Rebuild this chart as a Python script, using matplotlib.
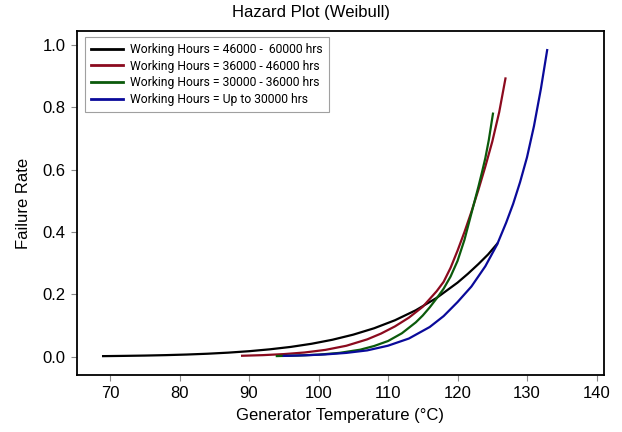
import matplotlib
matplotlib.use("Agg")
import matplotlib.pyplot as plt

labels = ["Working Hours = 46000 -  60000 hrs",
          "Working Hours = 36000 - 46000 hrs",
          "Working Hours = 30000 - 36000 hrs",
          "Working Hours = Up to 30000 hrs"]

t_black = [69, 72, 75, 78, 81, 84, 87, 90, 93, 96, 99, 102, 105, 108, 111, 114, 117, 120, 121.5, 123, 124.4, 125.7]
h_black = [0.0015, 0.0023, 0.0033, 0.0047, 0.0066, 0.0092, 0.0127, 0.0173, 0.0234, 0.0311, 0.0412,
           0.0541, 0.0705, 0.091, 0.1167, 0.1488, 0.1885, 0.2374, 0.266, 0.297, 0.328, 0.362]

t_red = [89, 92, 95, 98, 101, 104, 107, 109, 111, 113, 115, 117, 118, 119, 120, 121, 122, 123,
         124, 125, 126, 126.9]
h_red = [0.0027, 0.0047, 0.0080, 0.0132, 0.0216, 0.0348, 0.0553, 0.074, 0.097, 0.125, 0.16, 0.21,
         0.24, 0.285, 0.34, 0.40, 0.465, 0.535, 0.61, 0.69, 0.785, 0.893]

t_green = [94, 97, 100, 103, 106, 108, 110, 112, 114, 115, 116, 117, 118, 119, 120, 121, 122,
           123, 123.5, 124, 124.5, 125.1]
h_green = [0.0017, 0.0033, 0.0063, 0.0119, 0.0222, 0.034, 0.05, 0.075, 0.11, 0.132, 0.158, 0.187,
           0.218, 0.257, 0.307, 0.375, 0.46, 0.545, 0.59, 0.637, 0.695, 0.78]

t_blue = [95, 98, 101, 104, 107, 110, 113, 116, 118, 120, 122, 124, 125.7, 127, 128, 129, 130,
          131, 132, 132.9]
h_blue = [0.0023, 0.0041, 0.0070, 0.0119, 0.0199, 0.035, 0.058, 0.095, 0.13, 0.175, 0.225, 0.29,
          0.36, 0.43, 0.49, 0.56, 0.64, 0.74, 0.86, 0.984]

colors = ["#000000", "#8B0A1E", "#0B5A0B", "#0A0A9A"]

xticks = [70, 80, 90, 100, 110, 120, 130, 140]
yticks = [0.0, 0.2, 0.4, 0.6, 0.8, 1.0]

plt.rcParams['font.family'] = ['Liberation Sans', 'DejaVu Sans']

fig = plt.figure(figsize=(6.22, 4.32), dpi=100)
ax = fig.add_axes([0.1233, 0.132, 0.848, 0.796])

series = [(t_black, h_black), (t_red, h_red), (t_green, h_green), (t_blue, h_blue)]
for (t, h), c, lab in zip(series, colors, labels):
    ax.plot(t, h, color=c, lw=1.6, label=lab, solid_joinstyle='round')

ax.set_xlim(65.2, 141.1)
ax.set_ylim(-0.059, 1.045)
ax.set_xticks(xticks)
ax.set_yticks(yticks)
ax.set_yticklabels([f"{v:.1f}" for v in yticks])
ax.tick_params(axis='both', direction='out', length=4, width=0.8, color='#888888',
               labelsize=12, pad=4)
for s in ax.spines.values():
    s.set_linewidth(1.3)
    s.set_color('#000000')

ax.set_xlabel("Generator Temperature (°C)", fontsize=12, labelpad=5)
ax.set_ylabel("Failure Rate", fontsize=12, labelpad=8)
fig.text(0.5, 0.972, "Hazard Plot (Weibull)", ha='center', va='center', fontsize=12)

leg = ax.legend(loc='upper left', bbox_to_anchor=(0.016, 0.983),
                frameon=True, fancybox=False, handlelength=2.6, handletextpad=0.6,
                borderpad=0.5, labelspacing=0.3, borderaxespad=0.0,
                prop={'family': ['Roboto', 'DejaVu Sans'], 'size': 8.7})
leg.get_frame().set_edgecolor('#888888')
leg.get_frame().set_linewidth(0.8)
for l in leg.get_lines():
    l.set_linewidth(2)

fig.savefig("out.png", dpi=100)
